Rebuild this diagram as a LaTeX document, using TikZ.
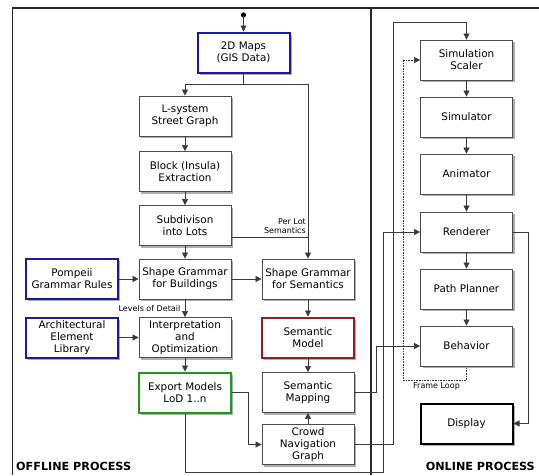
\documentclass[tikz,border=0pt]{standalone}
\usepackage{fontspec}
\setmainfont{DejaVu Sans}
\usetikzlibrary{arrows.meta,shadows,calc}
\definecolor{bboxblue}{HTML}{1A1AA0}
\definecolor{bboxred}{HTML}{9A1C1C}
\definecolor{bboxgreen}{HTML}{1C9A1C}
\begin{document}
\begin{tikzpicture}[x=1pt,y=-1pt,
  box/.style={draw=gray!60!black, line width=0.8pt, fill=white,
    minimum width=92pt, minimum height=40pt, inner sep=1pt, align=center,
    font=\fontsize{10.4}{12.2}\selectfont,
    drop shadow={shadow xshift=2.4pt, shadow yshift=-2.4pt, fill=black!32, opacity=1}},
  bluebox/.style={box, draw=bboxblue, line width=2pt},
  redbox/.style={box, draw=bboxred, line width=2pt},
  greenbox/.style={box, draw=bboxgreen, line width=2pt},
  blackbox/.style={box, draw=black, line width=2pt},
  conn/.style={draw=gray!45!black, line width=0.6pt},
  arr/.style={conn, -{Triangle[length=6pt,width=6pt]}},
  small/.style={font=\fontsize{8}{9}\selectfont, inner sep=0pt},
  title/.style={font=\fontsize{11.2}{13}\selectfont\bfseries, inner sep=0pt, anchor=base west}
]
\useasboundingbox (0,0) rectangle (539,475);
% frame
\draw[line width=1.5pt, black!85] (12.5,475) -- (12.5,8) -- (539,8);
\draw[line width=1.5pt, black!85] (371,8) -- (371,475);

% offline nodes
\node[bluebox] (maps) at (243.5,52.5) {2D Maps\\(GIS Data)};
\node[box] (lsys) at (185,116) {L-system\\Street Graph};
\node[box] (block) at (185,171.5) {Block (Insula)\\Extraction};
\node[box] (subdiv) at (185,225.5) {Subdivison\\into Lots};
\node[box] (sgb) at (185,279) {Shape Grammar\\for Buildings};
\node[bluebox] (pomp) at (72,279) {Pompeii\\Grammar Rules};
\node[box] (sgs) at (308,279) {Shape Grammar\\for Semantics};
\node[bluebox] (arch) at (72,337.5) {Architectural\\Element\\Library};
\node[box] (interp) at (185,337.5) {Interpretation\\and\\Optimization};
\node[redbox] (semmodel) at (308,337.5) {Semantic\\Model};
\node[greenbox] (export) at (185,392.5) {Export Models\\LoD 1..n};
\node[box] (semmap) at (308,392.5) {Semantic\\Mapping};
\node[box] (crowd) at (308,444.5) {Crowd\\Navigation\\Graph};

% online nodes
\node[box] (scaler) at (466.5,60) {Simulation\\Scaler};
\node[box] (simulator) at (466.5,117) {Simulator};
\node[box] (animator) at (466.5,174) {Animator};
\node[box] (renderer) at (466.5,232) {Renderer};
\node[box] (planner) at (466.5,289) {Path Planner};
\node[box] (behavior) at (466.5,346) {Behavior};
\node[blackbox] (display) at (466.5,423.5) {Display};

% start dot
\coordinate (start) at (243.5,15);
\fill[black] (start) circle (2.6pt);
\draw[arr] (start) -- (maps.north);

% offline connectors
\coordinate (split) at (243.5,84);
\coordinate (lotjoin) at (308,237);
\draw[conn] (maps.south) -- (split);
\draw[arr] (split) -| (lsys.north);
\draw[arr] (split) -| (sgs.north);
\draw[conn] ([yshift=-11.5pt]subdiv.east) -- (lotjoin);
\node[small, align=right, anchor=south east] (perlot) at (306,233.5) {Per Lot\\Semantics};
\draw[arr] (lsys) -- (block);
\draw[arr] (block) -- (subdiv);
\draw[arr] (subdiv) -- (sgb);
\draw[arr] (sgb) -- (interp);
\node[small, anchor=east] (lod) at (180.5,309) {Levels of Detail};
\draw[arr] (interp) -- (export);
\draw[arr] (pomp) -- (sgb);
\draw[arr] (sgb) -- (sgs);
\draw[arr] (arch) -- (interp);
\draw[arr] (sgs) -- (semmodel);
\draw[arr] (semmodel) -- (semmap);
\draw[arr] (crowd) -- (semmap);
\coordinate (ex1) at (248,392.5);
\draw[arr] (export.east) -- (ex1) |- (crowd.west);
\coordinate (ex2) at (185,472);
\coordinate (ex3) at (383,472);
\draw[arr] (export.south) -- (ex2) -- (ex3) |- (renderer.west);
\coordinate (cr1) at (393,444.5);
\coordinate (cr2) at (393,22);
\draw[arr] (crowd.east) -- (cr1) -- (cr2) -| (scaler.north);
\coordinate (sm1) at (376,392.5);
\draw[arr] (semmap.east) -- (sm1) |- (behavior.west);

% online connectors
\draw[arr] (scaler) -- (simulator);
\draw[arr] (simulator) -- (animator);
\draw[arr] (animator) -- (renderer);
\draw[arr] (renderer) -- (planner);
\draw[arr] (planner) -- (behavior);
\coordinate (rd1) at (528,232);
\draw[arr] (renderer.east) -- (rd1) |- (display.east);
\coordinate (fl1) at (466.5,380);
\coordinate (fl2) at (403,380);
\draw[arr, densely dotted, line width=0.5pt] (behavior.south) -- (fl1) -- (fl2) |- (scaler.west);
\node[small, anchor=north west] (frameloop) at (413,382.5) {Frame Loop};

% titles
\node[title] (offline) at (16,470) {OFFLINE PROCESS};
\node[title, anchor=base east] (online) at (535,470) {ONLINE PROCESS};
\end{tikzpicture}
\end{document}
